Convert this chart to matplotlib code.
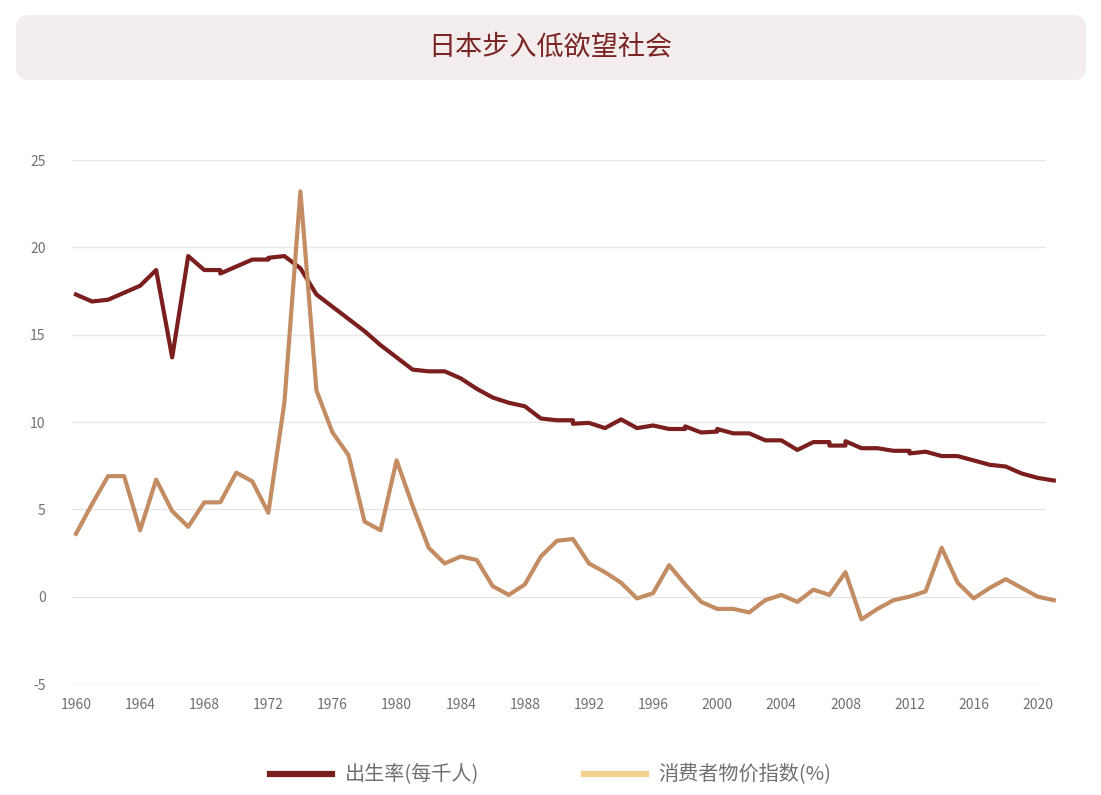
import numpy as np
import matplotlib
matplotlib.use("Agg")
import matplotlib.pyplot as plt
from matplotlib.patches import FancyBboxPatch
from matplotlib.lines import Line2D

plt.rcParams['font.family'] = ['Noto Sans CJK SC', 'DejaVu Sans']
plt.rcParams['axes.unicode_minus'] = False

# Birth rate per 1000 people (some years carry two values, as in the source)
birth_years = [1960, 1961, 1962, 1963, 1964, 1965, 1966, 1967, 1968, 1969, 1969,
               1970, 1971, 1972, 1972, 1973, 1974, 1975, 1976, 1977, 1978, 1979,
               1980, 1981, 1982, 1983, 1984, 1985, 1986, 1987, 1988, 1989,
               1990, 1991, 1991, 1992, 1993, 1994, 1995, 1996, 1997, 1998, 1998, 1999,
               2000, 2000, 2001, 2002, 2003, 2004, 2005, 2006, 2007, 2007, 2008, 2008,
               2009, 2010, 2011, 2012, 2012, 2013, 2014, 2015, 2016, 2017, 2018,
               2019, 2020, 2021]
birth_rate = [17.3, 16.9, 17.0, 17.4, 17.8, 18.7, 13.7, 19.5, 18.7, 18.7, 18.5,
              18.9, 19.3, 19.3, 19.4, 19.5, 18.8, 17.3, 16.6, 15.9, 15.2, 14.4,
              13.7, 13.0, 12.9, 12.9, 12.5, 11.9, 11.4, 11.1, 10.9, 10.2,
              10.1, 10.1, 9.9, 9.95, 9.65, 10.15, 9.65, 9.8, 9.6, 9.6, 9.75, 9.4,
              9.45, 9.6, 9.35, 9.35, 8.95, 8.95, 8.4, 8.85, 8.85, 8.65, 8.65, 8.9,
              8.5, 8.5, 8.35, 8.35, 8.2, 8.3, 8.05, 8.05, 7.8, 7.55, 7.45,
              7.05, 6.8, 6.65]

# Consumer price index change (%)
cpi_years = list(range(1960, 2022))
cpi = [3.6, 5.3, 6.9, 6.9, 3.8, 6.7, 4.9, 4.0, 5.4, 5.4,
       7.1, 6.6, 4.8, 11.1, 23.2, 11.8, 9.4, 8.1, 4.3, 3.8,
       7.8, 5.2, 2.8, 1.9, 2.3, 2.1, 0.6, 0.1, 0.7, 2.3,
       3.2, 3.3, 1.9, 1.4, 0.8, -0.1, 0.2, 1.8, 0.7, -0.3,
       -0.7, -0.7, -0.9, -0.2, 0.1, -0.3, 0.4, 0.1, 1.4, -1.3,
       -0.7, -0.2, 0.0, 0.3, 2.8, 0.8, -0.1, 0.5, 1.0, 0.5,
       0.0, -0.2]

x_ticks = list(range(1960, 2021, 4))
y_ticks = [-5, 0, 5, 10, 15, 20, 25]

title = '日本步入低欲望社会'
label_birth = '出生率(每千人)'
label_cpi = '消费者物价指数(%)'

birth_color = '#7a1e1e'
cpi_color = '#c48c62'
cpi_legend_color = '#f6d08f'
text_color = '#707070'

fig = plt.figure(figsize=(11.01, 7.95), dpi=100)

# Title banner
box = FancyBboxPatch((0.16, 7.15), 10.70, 0.65,
                     boxstyle='round,pad=0,rounding_size=0.13',
                     transform=fig.dpi_scale_trans,
                     facecolor='#f4eded', edgecolor='none')
fig.patches.append(box)
fig.text(0.5, 1 - 47 / 795, title, ha='center', va='center',
         fontsize=19.5, color='#7a2424')

ax = fig.add_axes([72 / 1101, 1 - 684 / 795, 974 / 1101, 524 / 795])

ax.plot(birth_years, birth_rate, color=birth_color, lw=3.0,
        solid_joinstyle='round', clip_on=False, zorder=3)
ax.plot(cpi_years, cpi, color=cpi_color, lw=3.0,
        solid_joinstyle='round', clip_on=False, zorder=4)

ax.set_xlim(1960 - 4 / 16.03, 1960 + 970 / 16.03)
ax.set_ylim(-5, 25)
ax.set_xticks(x_ticks)
ax.set_yticks(y_ticks)
ax.tick_params(axis='both', length=0, labelsize=10, labelcolor=text_color)
ax.tick_params(axis='y', pad=19)
ax.tick_params(axis='x', pad=10)
ax.grid(axis='y', color='#e6e6e6', lw=1)
ax.set_axisbelow(True)
for s in ax.spines.values():
    s.set_visible(False)

handles = [Line2D([], [], color=birth_color, lw=4.5),
           Line2D([], [], color=cpi_legend_color, lw=4.5)]
fig.legend(handles, [label_birth, label_cpi], loc='center',
           bbox_to_anchor=(0.5, 1 - 775 / 795), ncol=2, frameon=False,
           fontsize=14.5, labelcolor=text_color, handlelength=3.1,
           handletextpad=0.6, columnspacing=5.2)

fig.savefig('out.png', dpi=100)
